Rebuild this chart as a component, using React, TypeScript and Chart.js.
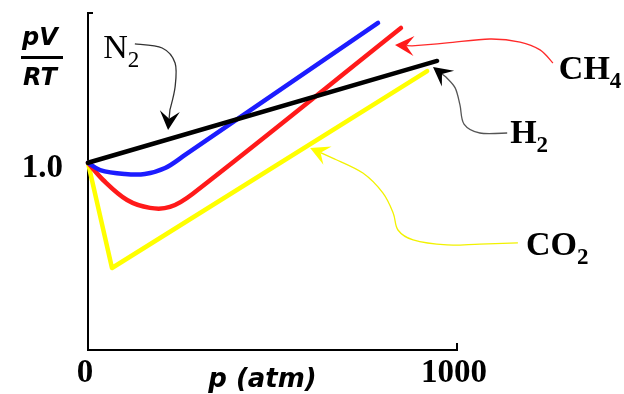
import React, { useEffect, useRef } from "react";
import { Chart, registerables } from "chart.js";

Chart.register(...registerables);

// ---- data (p in atm, pV/RT) ----
const h2P = [0, 946];
const h2V = [1.0, 1.544];
const n2P = [0, 33, 100, 154, 209, 263, 786];
const n2V = [1.0, 0.961, 0.94, 0.94, 0.972, 1.042, 1.747];
const ch4P = [0, 41, 106, 168, 222, 284, 848];
const ch4V = [1.0, 0.908, 0.801, 0.759, 0.764, 0.835, 1.72];
const co2P = [0, 65, 919];
const co2V = [1.0, 0.438, 1.49];

const xTicks = [0, 1000];
const xTickLabels = ["0", "1000"];
const yTicks = [1.0];
const yTickLabels = ["1.0"];

// annotation arrows (data coordinates): curve points then tip
const n2ArrowP = [127, 201, 236, 236, 222, 217];
const n2ArrowV = [1.635, 1.613, 1.533, 1.405, 1.282, 1.175];
const ch4ArrowP = [1260, 1225, 1171, 1089, 973, 878, 832];
const ch4ArrowV = [1.533, 1.603, 1.645, 1.661, 1.64, 1.624, 1.629];
const h2ArrowP = [1136, 1062, 1019, 1008, 995, 970, 935];
const h2ArrowV = [1.159, 1.159, 1.207, 1.309, 1.4, 1.458, 1.512];
const co2ArrowP = [1165, 1062, 973, 881, 840, 827, 799, 745, 669, 602];
const co2ArrowV = [0.572, 0.566, 0.561, 0.588, 0.641, 0.732, 0.839, 0.945, 1.02, 1.079];

// label anchors (data coordinates)
const labelNames = ["N", "CH", "H", "CO"];
const labelSubs = ["2", "4", "2", "2"];
const labelP = [41, 1276, 1144, 1187];
const labelV = [1.56, 1.448, 1.106, 0.507];
const labelBold = [false, true, true, true];

const toPts = (xs: number[], ys: number[]) => xs.map((x, i) => ({ x, y: ys[i] }));

function smoothPath(ctx: CanvasRenderingContext2D, pts: { x: number; y: number }[]) {
  ctx.moveTo(pts[0].x, pts[0].y);
  for (let i = 0; i < pts.length - 1; i++) {
    const p0 = pts[Math.max(0, i - 1)];
    const p1 = pts[i];
    const p2 = pts[i + 1];
    const p3 = pts[Math.min(pts.length - 1, i + 2)];
    ctx.bezierCurveTo(
      p1.x + (p2.x - p0.x) / 6,
      p1.y + (p2.y - p0.y) / 6,
      p2.x - (p3.x - p1.x) / 6,
      p2.y - (p3.y - p1.y) / 6,
      p2.x,
      p2.y
    );
  }
}

const annotationPlugin = {
  id: "annot",
  beforeDatasetsDraw(chart: any) {
    const ctx: CanvasRenderingContext2D = chart.ctx;
    const xs = chart.scales.x;
    const ys = chart.scales.y;
    const { left, right, top, bottom } = chart.chartArea;
    ctx.save();
    ctx.strokeStyle = "#000";
    ctx.lineWidth = 2;
    ctx.beginPath();
    ctx.moveTo(left + 5, top);
    ctx.lineTo(left, top);
    ctx.lineTo(left, bottom);
    ctx.lineTo(right, bottom);
    ctx.lineTo(right, bottom - 7);
    ctx.stroke();

    ctx.fillStyle = "#000";
    ctx.font = 'bold 33px "Liberation Serif"';
    ctx.textAlign = "center";
    ctx.textBaseline = "alphabetic";
    xTicks.forEach((t, i) => {
      ctx.fillText(xTickLabels[i], xs.getPixelForValue(t) - 3, bottom + 32);
    });
    ctx.textAlign = "right";
    yTicks.forEach((t, i) => {
      ctx.fillText(yTickLabels[i], left - 25, ys.getPixelForValue(t) + 14);
    });

    // axis titles
    ctx.font = 'bold oblique 26px "DejaVu Sans"';
    ctx.textAlign = "center";
    ctx.fillText("p (atm)", (left + right) / 2 - 10, bottom + 37);
    ctx.font = 'bold oblique 24px "DejaVu Sans"';
    ctx.fillText("pV", 40, 45);
    ctx.fillText("RT", 40, 85);
    ctx.fillRect(21, 56, 42, 3);
    ctx.restore();
  },
  afterDraw(chart: any) {
    const ctx: CanvasRenderingContext2D = chart.ctx;
    const xs = chart.scales.x;
    const ys = chart.scales.y;
    const px = (p: number, v: number) => ({ x: xs.getPixelForValue(p), y: ys.getPixelForValue(v) });

    const arrow = (P: number[], V: number[], color: string, headColor: string) => {
      const pts = P.map((p, i) => px(p, V[i]));
      const tip = pts[pts.length - 1];
      const curve = pts.slice(0, -1);
      const last = curve[curve.length - 1];
      let dx = tip.x - last.x;
      let dy = tip.y - last.y;
      const d = Math.hypot(dx, dy) || 1;
      dx /= d;
      dy /= d;
      const L = 19;
      const W = 10;
      const bx = tip.x - dx * L;
      const by = tip.y - dy * L;
      const notch = { x: tip.x - dx * L * 0.6, y: tip.y - dy * L * 0.6 };
      ctx.save();
      ctx.strokeStyle = color;
      ctx.lineWidth = 1.3;
      ctx.beginPath();
      smoothPath(ctx, curve);
      ctx.lineTo(notch.x, notch.y);
      ctx.stroke();
      ctx.fillStyle = headColor;
      ctx.beginPath();
      ctx.moveTo(tip.x, tip.y);
      ctx.lineTo(bx - dy * W, by + dx * W);
      ctx.lineTo(notch.x, notch.y);
      ctx.lineTo(bx + dy * W, by - dx * W);
      ctx.closePath();
      ctx.fill();
      ctx.restore();
    };

    arrow(n2ArrowP, n2ArrowV, "#333", "#000");
    arrow(ch4ArrowP, ch4ArrowV, "#ff2a2a", "#ff1a1a");
    arrow(h2ArrowP, h2ArrowV, "#555", "#000");
    arrow(co2ArrowP, co2ArrowV, "#f2f200", "#ffff00");

    ctx.save();
    ctx.fillStyle = "#000";
    ctx.textAlign = "left";
    ctx.textBaseline = "alphabetic";
    labelNames.forEach((name, i) => {
      const pos = px(labelP[i], labelV[i]);
      const w = labelBold[i] ? "bold " : "";
      ctx.font = w + '34px "Liberation Serif"';
      ctx.fillText(name, pos.x, pos.y);
      const mw = ctx.measureText(name).width;
      ctx.font = w + '23px "Liberation Serif"';
      ctx.fillText(labelSubs[i], pos.x + mw, pos.y + 9);
    });
    ctx.restore();
  },
};

export default function App() {
  const ref = useRef<HTMLCanvasElement>(null);
  useEffect(() => {
    if (!ref.current) return;
    const lineStyle = {
      borderWidth: 4.5,
      pointRadius: 0,
      fill: false,
      borderCapStyle: "round" as const,
      borderJoinStyle: "round" as const,
    };
    const chart = new Chart(ref.current, {
      type: "line",
      data: {
        datasets: [
          { label: "H2", data: toPts(h2P, h2V), borderColor: "#000000", tension: 0, ...lineStyle },
          { label: "N2", data: toPts(n2P, n2V), borderColor: "#1c1cff", tension: 0.35, ...lineStyle },
          { label: "CH4", data: toPts(ch4P, ch4V), borderColor: "#ff1a1a", tension: 0.35, ...lineStyle },
          { label: "CO2", data: toPts(co2P, co2V), borderColor: "#ffff00", tension: 0, ...lineStyle },
        ],
      },
      options: {
        animation: false,
        responsive: true,
        maintainAspectRatio: false,
        layout: { padding: { left: 88, right: 167, top: 13, bottom: 44 } },
        plugins: { legend: { display: false }, tooltip: { enabled: false } },
        scales: {
          x: { type: "linear", min: 0, max: 1000, display: false },
          y: { type: "linear", min: 0, max: 1.8, display: false },
        },
        datasets: { line: { clip: false } } as any,
      },
      plugins: [annotationPlugin],
    });
    return () => chart.destroy();
  }, []);
  return (
    <div style={{ position: "fixed", left: 0, top: 0, width: 624, height: 394, background: "#fff" }}>
      <canvas ref={ref} />
    </div>
  );
}
